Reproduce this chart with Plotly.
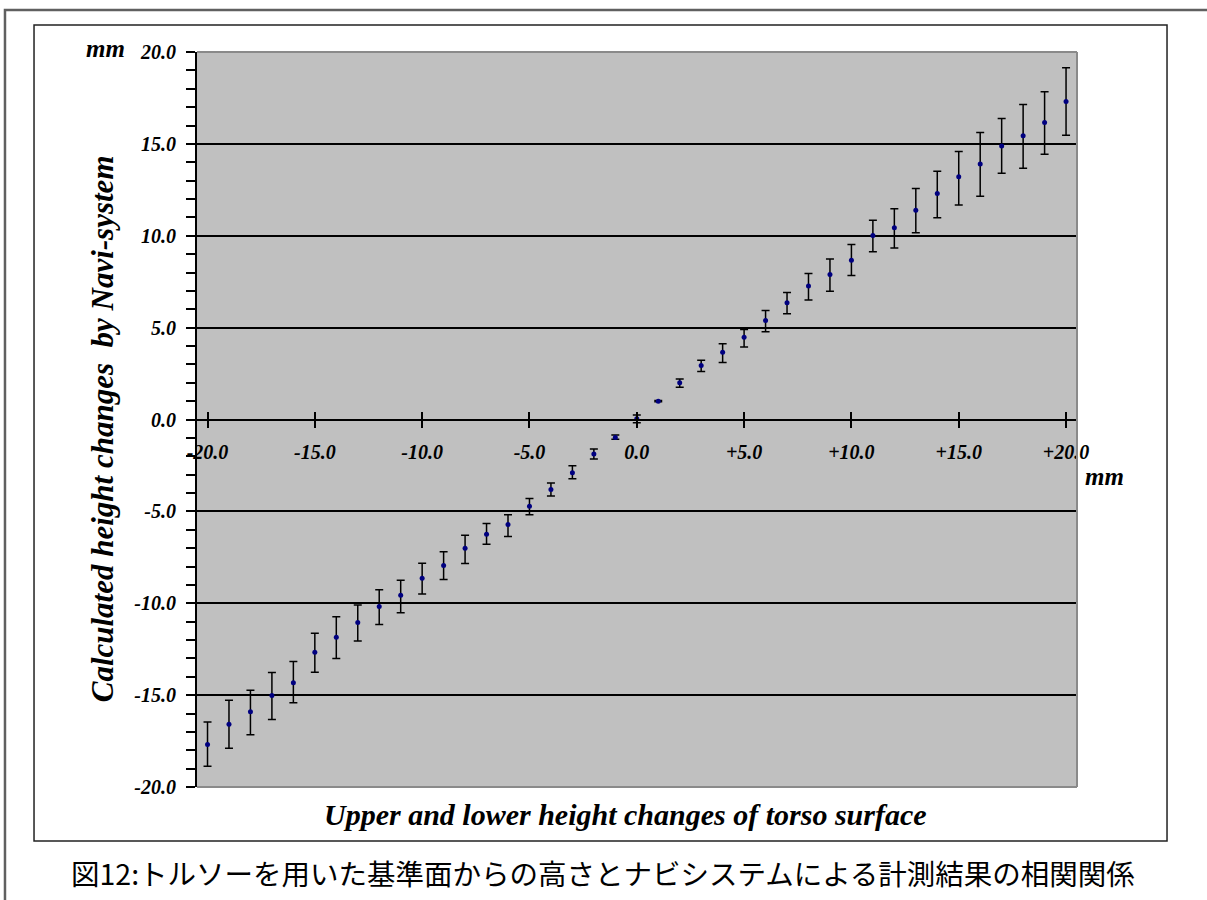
import plotly.graph_objects as go

# ---- data ----
x_mm = list(range(-20, 21))
y_calc = [-17.69, -16.58, -15.91, -15.02, -14.33, -12.66, -11.85, -11.05, -10.18, -9.56,
          -8.64, -7.95, -7.00, -6.24, -5.71, -4.72, -3.81, -2.90, -1.88, -0.98,
          0.04, 1.00, 2.00, 2.94, 3.66, 4.48, 5.39, 6.35, 7.26, 7.89,
          8.66, 10.01, 10.43, 11.39, 12.30, 13.21, 13.90, 14.89, 15.44, 16.16, 17.31]
err_plus = [1.23, 1.30, 1.18, 1.25, 1.16, 1.03, 1.11, 0.96, 0.91, 0.81,
            0.82, 0.75, 0.70, 0.58, 0.52, 0.42, 0.35, 0.38, 0.28, 0.14,
            0.20, 0.03, 0.21, 0.29, 0.46, 0.42, 0.54, 0.56, 0.69, 0.85,
            0.86, 0.84, 1.04, 1.18, 1.21, 1.38, 1.72, 1.49, 1.70, 1.68, 1.83]
err_minus = [1.18, 1.31, 1.25, 1.31, 1.09, 1.09, 1.15, 1.00, 0.97, 0.96,
             0.85, 0.76, 0.84, 0.55, 0.66, 0.47, 0.35, 0.32, 0.27, 0.10,
             0.22, 0.03, 0.24, 0.33, 0.56, 0.54, 0.62, 0.60, 0.75, 0.91,
             0.82, 0.88, 1.09, 1.23, 1.32, 1.53, 1.75, 1.49, 1.76, 1.72, 1.84]

x_tickvals = [-20, -15, -10, -5, 0, 5, 10, 15, 20]
x_ticktext = ["-20.0", "-15.0", "-10.0", "-5.0", "0.0", "+5.0", "+10.0", "+15.0", "+20.0"]
y_tickvals = [20, 15, 10, 5, 0, -5, -10, -15, -20]
y_ticktext = ["20.0", "15.0", "10.0", "5.0", "0.0", "-5.0", "-10.0", "-15.0", "-20.0"]

x_title = "Upper and lower height changes of torso surface"
y_title = "Calculated height changes  by Navi-system"
unit_label = "mm"
caption = "図12:トルソーを用いた基準面からの高さとナビシステムによる計測結果の相関関係"

SERIF = "Liberation Serif"
bi = dict(family=SERIF, style="italic", weight="bold", color="black")

fig = go.Figure()
fig.add_trace(go.Scatter(
    x=x_mm, y=y_calc, mode="markers",
    marker=dict(color="#000080", size=5),
    error_y=dict(type="data", symmetric=False, array=err_plus, arrayminus=err_minus,
                 color="black", thickness=1.5, width=4),
    hoverinfo="x+y", showlegend=False,
))
# invisible companion trace so the overlay axis (inside ticks) is rendered
fig.add_trace(go.Scatter(x=x_mm, y=y_calc, xaxis="x2", mode="markers",
                         marker=dict(opacity=0), hoverinfo="skip", showlegend=False))

fig.update_layout(
    width=1207, height=900,
    margin=dict(l=197, r=130, t=52, b=113),
    paper_bgcolor="white", plot_bgcolor="#C0C0C0",
    xaxis=dict(range=[-20.49, 20.51], anchor="free", position=0.5,
               tickvals=x_tickvals, ticktext=x_ticktext,
               ticks="outside", ticklen=8, tickwidth=1.5, tickcolor="black",
               showline=True, linecolor="black", linewidth=1.5,
               showgrid=False, zeroline=False,
               tickfont=dict(size=20, **bi), ticklabelstandoff=7),
    xaxis2=dict(range=[-20.49, 20.51], overlaying="x", anchor="free", position=0.5,
                tickvals=x_tickvals, ticks="inside", ticklen=8, tickwidth=1.5,
                tickcolor="black", showticklabels=False, showline=False,
                showgrid=False, zeroline=False),
    yaxis=dict(range=[-20, 20], tickvals=y_tickvals, ticktext=y_ticktext,
               ticks="outside", ticklen=9, tickwidth=1.5, tickcolor="black",
               minor=dict(dtick=1, ticks="outside", ticklen=9, tickwidth=1.5,
                          tickcolor="black", showgrid=False),
               showline=True, linecolor="black", linewidth=2,
               showgrid=True, gridcolor="black", gridwidth=1.5, zeroline=False,
               tickfont=dict(size=20, **bi), ticklabelstandoff=6),
    font=dict(family=SERIF, color="black"),
)

# plot-area border (gray) on top, right and bottom
border = dict(color="#8a8a8a", width=2)
fig.add_shape(type="line", xref="paper", yref="paper", x0=0, x1=1, y0=1, y1=1, line=border)
fig.add_shape(type="line", xref="paper", yref="paper", x0=1, x1=1, y0=0, y1=1, line=border)
fig.add_shape(type="line", xref="paper", yref="paper", x0=0, x1=1, y0=0, y1=0, line=border)

# inner chart frame and outer page frame
fig.add_shape(type="rect", xref="paper", yref="paper",
              x0=-0.1852, x1=1.1023, y0=-0.0735, y1=1.0367,
              line=dict(color="#222222", width=1.5), layer="below")
fig.add_shape(type="rect", xref="paper", yref="paper",
              x0=-0.2182, x1=1.16, y0=-0.17, y1=1.0571,
              line=dict(color="#606060", width=2.5), layer="below")

ann = dict(xref="paper", yref="paper", showarrow=False, xanchor="center", yanchor="middle")
fig.add_annotation(text=unit_label, x=-0.1045, y=1.0054, font=dict(size=25, **bi), **ann)
fig.add_annotation(text=unit_label, x=1.0318, y=0.4218, font=dict(size=25, **bi), **ann)
fig.add_annotation(text=x_title, x=0.4864, y=-0.038, font=dict(size=30, **bi), **ann)
fig.add_annotation(text=y_title, x=-0.108, y=0.488, textangle=-90,
                   font=dict(size=31, **bi), **ann)
fig.add_annotation(text=caption, x=0.461, y=-0.117,
                   font=dict(size=28.5, family="Noto Sans CJK JP", color="black"), **ann)

fig.write_html("out.html")
